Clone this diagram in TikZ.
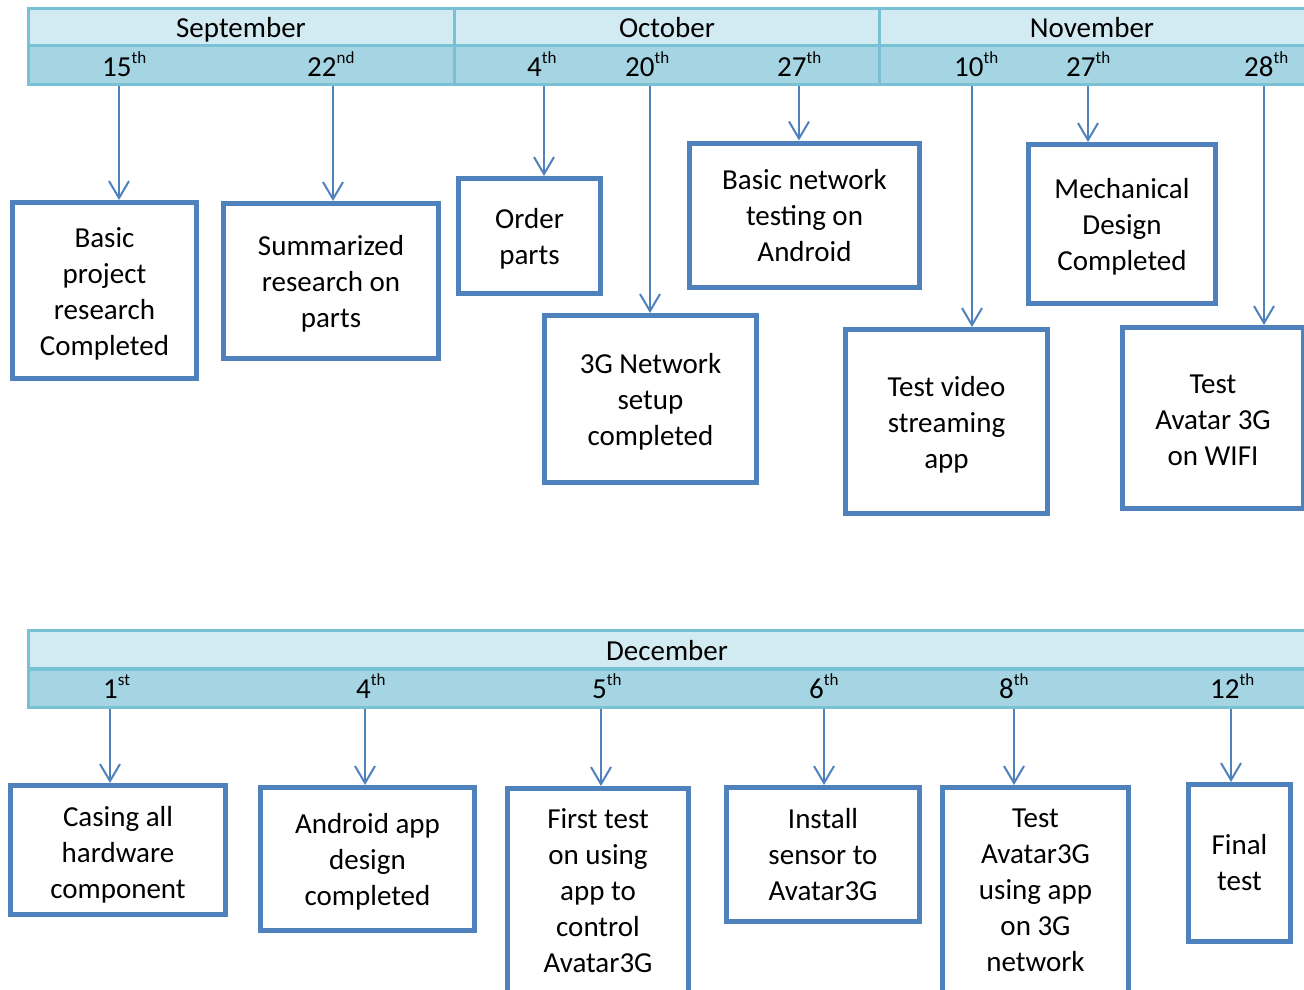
\documentclass[tikz,border=0pt]{standalone}
\usepackage{fontspec}
\setmainfont{Carlito}
\usetikzlibrary{arrows.meta}
\definecolor{boxblue}{HTML}{4F81BD}
\definecolor{gridline}{HTML}{78C0D4}
\definecolor{monthfill}{HTML}{D2EAF1}
\definecolor{dayfill}{HTML}{A5D5E2}
% raised ordinal suffix
\newcommand\dsup[1]{\raisebox{13pt}{\fontsize{17}{17}\selectfont #1}}
% invisible strut that makes a first line taller, lowering the text block
\newcommand\topgap[1]{\rule{0pt}{#1}}
\tikzset{
  cell/.style={draw=gridline, line width=3pt, inner sep=0pt, outer sep=0pt},
  monthcell/.style={cell, fill=monthfill},
  daycell/.style={cell, fill=dayfill},
  lbl/.style={inner sep=0pt, anchor=base, font=\fontsize{29}{36}\selectfont},
  daylbl/.style={lbl, anchor=base west},
  task/.style={draw=boxblue, line width=5pt, fill=white, align=center,
    inner sep=0pt, font=\fontsize{29}{36}\selectfont},
  arr/.style={draw=boxblue, line width=2pt,
    -{Straight Barb[length=17pt,width=20pt,line width=2pt]}}
}
\begin{document}
\begin{tikzpicture}[x=1pt,y=-1pt]
\useasboundingbox (0,0) rectangle (1304,989);

% ---- first timeline header: September to November ----
\node[monthcell, minimum width=426pt, minimum height=37pt] (msep) at (241.5,27) {};
\node[monthcell, minimum width=425pt, minimum height=37pt] (moct) at (667,27) {};
\node[monthcell, minimum width=440pt, minimum height=37pt] (mnov) at (1099.5,27) {};
\node[daycell, minimum width=426pt, minimum height=39pt] (dsep) at (241.5,65) {};
\node[daycell, minimum width=425pt, minimum height=39pt] (doct) at (667,65) {};
\node[daycell, minimum width=440pt, minimum height=39pt] (dnov) at (1099.5,65) {};

\node[lbl] (tsep) at (241,37) {September};
\node[lbl] (toct) at (667,37) {October};
\node[lbl] (tnov) at (1092,37) {November};

\node[daylbl] (s15) at (102,76) {15\dsup{th}};
\node[daylbl] (s22) at (307,76) {22\dsup{nd}};
\node[daylbl] (o4)  at (527,76) {4\dsup{th}};
\node[daylbl] (o20) at (625,76) {20\dsup{th}};
\node[daylbl] (o27) at (777,76) {27\dsup{th}};
\node[daylbl] (n10) at (954,76) {10\dsup{th}};
\node[daylbl] (n27) at (1066,76) {27\dsup{th}};
\node[daylbl] (n28) at (1244,76) {28\dsup{th}};

% ---- milestones, first row ----
\node[task, minimum width=184pt, minimum height=176pt] (b1) at (104.5,290.5)
  {\topgap{26pt}Basic\\project\\research\\Completed};
\node[task, minimum width=215pt, minimum height=155pt] (b2) at (331,281)
  {\topgap{26pt}Summarized\\research on\\parts};
\node[task, minimum width=142pt, minimum height=115pt] (b3) at (529.5,236)
  {\topgap{26pt}Order\\parts};
\node[task, minimum width=212pt, minimum height=167pt] (b4) at (650.5,399)
  {\topgap{26pt}3G Network\\setup\\completed};
\node[task, minimum width=230pt, minimum height=144pt] (b5) at (804.5,215)
  {\topgap{22pt}Basic network\\testing on\\Android};
\node[task, minimum width=187pt, minimum height=159pt] (b6) at (1122,224)
  {\topgap{26pt}Mechanical\\Design\\Completed};
\node[task, minimum width=202pt, minimum height=184pt] (b7) at (946.5,421.5)
  {\topgap{26pt}Test video\\streaming\\app};
\node[task, minimum width=181pt, minimum height=181pt] (b8) at (1213,418)
  {\topgap{24pt}Test\\Avatar 3G\\on WIFI};

% arrow origins on the lower edge of the header
\coordinate (a1) at (119,86);
\coordinate (a2) at (333,86);
\coordinate (a3) at (544,86);
\coordinate (a4) at (650,86);
\coordinate (a5) at (799,86);
\coordinate (a6) at (972,86);
\coordinate (a7) at (1088,86);
\coordinate (a8) at (1264,86);

\draw[arr] (a1) -- (a1 |- b1.north);
\draw[arr] (a2) -- (a2 |- b2.north);
\draw[arr] (a3) -- (a3 |- b3.north);
\draw[arr] (a4) -- (a4 |- b4.north);
\draw[arr] (a5) -- (a5 |- b5.north);
\draw[arr] (a6) -- (a6 |- b7.north);
\draw[arr] (a7) -- (a7 |- b6.north);
\draw[arr] (a8) -- (a8 |- b8.north);

% ---- second timeline header: December ----
\node[monthcell, minimum width=1291pt, minimum height=38pt] (mdec) at (674,649.5) {};
\node[daycell, minimum width=1291pt, minimum height=38pt] (ddec) at (674,688.5) {};
\node[lbl] (tdec) at (667,660) {December};

\node[daylbl] (d1)  at (103,698) {1\dsup{st}};
\node[daylbl] (d4)  at (356,698) {4\dsup{th}};
\node[daylbl] (d5)  at (592,698) {5\dsup{th}};
\node[daylbl] (d6)  at (809,698) {6\dsup{th}};
\node[daylbl] (d8)  at (999,698) {8\dsup{th}};
\node[daylbl] (d12) at (1210,698) {12\dsup{th}};

% ---- milestones, second row ----
\node[task, minimum width=215pt, minimum height=129pt] (c1) at (118,850)
  {\topgap{30pt}Casing all\\hardware\\component};
\node[task, minimum width=214pt, minimum height=143pt] (c2) at (367.5,859)
  {\topgap{26pt}Android app\\design\\completed};
\node[task, minimum width=181pt, minimum height=204pt] (c3) at (598,890.5)
  {First test\\on using\\app to\\control\\Avatar3G};
\node[task, minimum width=193pt, minimum height=134pt] (c4) at (823,854.5)
  {Install\\sensor to\\Avatar3G};
\node[task, minimum width=186pt, minimum height=205pt] (c5) at (1035.5,890)
  {Test\\Avatar3G\\using app\\on 3G\\network};
\node[task, minimum width=102pt, minimum height=157pt] (c6) at (1239.5,863)
  {Final\\test};

\coordinate (e1) at (110,709);
\coordinate (e2) at (365,709);
\coordinate (e3) at (601,709);
\coordinate (e4) at (824,709);
\coordinate (e5) at (1014,709);
\coordinate (e6) at (1231,709);

\draw[arr] (e1) -- (e1 |- c1.north);
\draw[arr] (e2) -- (e2 |- c2.north);
\draw[arr] (e3) -- (e3 |- c3.north);
\draw[arr] (e4) -- (e4 |- c4.north);
\draw[arr] (e5) -- (e5 |- c5.north);
\draw[arr] (e6) -- (e6 |- c6.north);
\end{tikzpicture}
\end{document}
